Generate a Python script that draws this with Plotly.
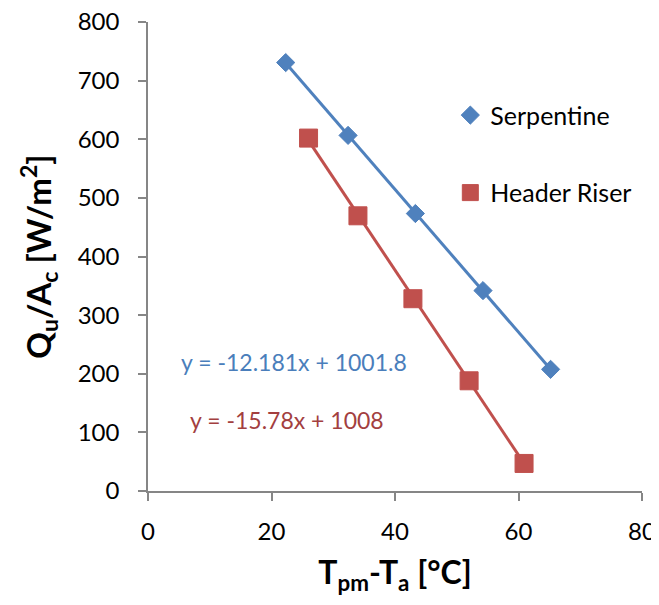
import plotly.graph_objects as go
import numpy as np

# Data
serp_x = [22.3, 32.4, 43.3, 54.25, 65.2]
serp_y = [730.8, 606.6, 473.3, 341.8, 207.5]
hr_x = [26.0, 34.0, 42.9, 52.0, 60.9]
hr_y = [602.0, 469.4, 328.0, 188.0, 47.0]

serp_fit = (-12.181, 1001.8)
hr_fit = (-15.78, 1008.0)

x_ticks = [0, 20, 40, 60, 80]
y_ticks = [0, 100, 200, 300, 400, 500, 600, 700, 800]

BLUE = "#4F81BD"
RED = "#C0504D"
FONT = "Lato"

fig = go.Figure()

def trend(xs, fit):
    xx = np.array([min(xs), max(xs)])
    return xx, fit[0] * xx + fit[1]

tx, ty = trend(serp_x, serp_fit)
fig.add_trace(go.Scatter(x=tx, y=ty, mode="lines", line=dict(color=BLUE, width=3),
                         showlegend=False, hoverinfo="skip"))
tx, ty = trend(hr_x, hr_fit)
fig.add_trace(go.Scatter(x=tx, y=ty, mode="lines", line=dict(color=RED, width=3),
                         showlegend=False, hoverinfo="skip"))

fig.add_trace(go.Scatter(x=serp_x, y=serp_y, mode="markers", name="Serpentine",
                         legendgroup="a",
                         marker=dict(symbol="diamond", size=14, color=BLUE,
                                     line=dict(color=BLUE, width=1))))
fig.add_trace(go.Scatter(x=hr_x, y=hr_y, mode="markers", name="Header Riser",
                         legendgroup="b",
                         marker=dict(symbol="square", size=18, color=RED,
                                     line=dict(color=RED, width=1))))

fig.add_annotation(x=23.6, y=220, xref="x", yref="y", showarrow=False,
                   text="y = -12.181x + 1001.8",
                   font=dict(family=FONT, size=23, color="#4A7EBB"))
fig.add_annotation(x=22.5, y=121, xref="x", yref="y", showarrow=False,
                   text="y = -15.78x + 1008",
                   font=dict(family=FONT, size=23, color="#A33F3F"))

axis_common = dict(showgrid=False, zeroline=False, showline=True, linecolor="#868686",
                   linewidth=1.5, ticks="outside", tickcolor="#868686", ticklen=8,
                   tickwidth=1.5, automargin=False, ticklabeloverflow="allow",
                   tickfont=dict(family=FONT, size=24, color="black"))

fig.update_xaxes(range=[0, 80], tickvals=x_ticks, ticktext=[str(v) for v in x_ticks],
                 title=dict(text="<b>T<sub>pm</sub>-T<sub>a</sub> [°C]</b>",
                            font=dict(family=FONT, size=32, color="black"),
                            standoff=18),
                 ticklabelstandoff=10,
                 **axis_common)
fig.update_yaxes(range=[0, 800], tickvals=y_ticks, ticktext=[str(v) for v in y_ticks],
                 title=dict(text="<b>Q<sub>u</sub>/A<sub>c</sub> [W/m<sup>2</sup>]</b>",
                            font=dict(family=FONT, size=33, color="black"),
                            standoff=16),
                 ticklabelstandoff=14,
                 **axis_common)

fig.update_layout(
    width=651, height=589, autosize=False,
    margin=dict(l=140, r=17, t=14, b=106),
    plot_bgcolor="white", paper_bgcolor="white",
    legend=dict(x=0.612, y=0.85, xanchor="left", yanchor="top",
                font=dict(family=FONT, size=25, color="black"),
                tracegroupgap=42, bgcolor="rgba(0,0,0,0)"),
)

fig.write_html("out.html")
